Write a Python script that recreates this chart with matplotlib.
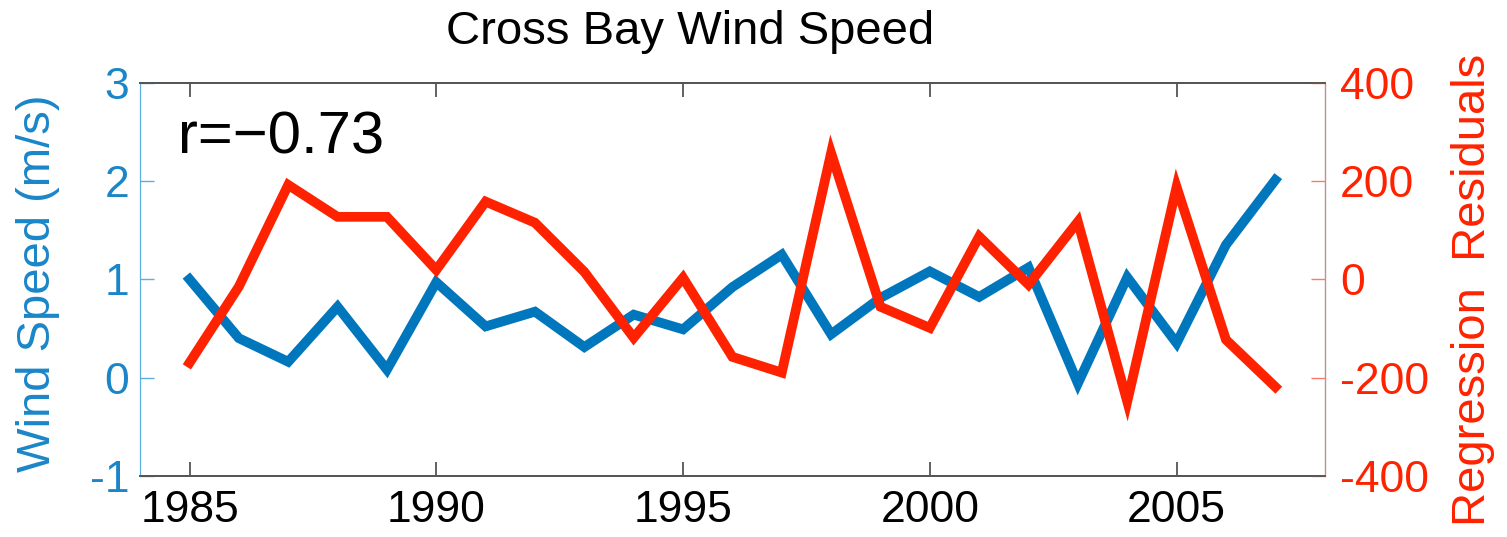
import matplotlib
matplotlib.use("Agg")
import matplotlib.pyplot as plt

plt.rcParams['font.family'] = ['Liberation Sans', 'DejaVu Sans']

# Annual series
years = list(range(1985, 2008))
wind_speed = [1.00, 0.40, 0.16, 0.72, 0.08, 0.97, 0.52, 0.67, 0.31, 0.64, 0.49, 0.92,
              1.25, 0.44, 0.81, 1.08, 0.82, 1.12, -0.06, 1.02, 0.35, 1.35, 2.01]
residuals = [-170, -15, 192, 127, 127, 19, 158, 115, 15, -119, 3, -158,
             -190, 257, -56, -99, 87, -11, 117, -249, 188, -123, -219]

year_ticks = [1985, 1990, 1995, 2000, 2005]
wind_ticks = [-1, 0, 1, 2, 3]
resid_ticks = [-400, -200, 0, 200, 400]

blue = '#0077bd'
blue_txt = '#1a86c8'
red = '#ff2200'

fig = plt.figure(figsize=(15.07, 5.37), dpi=100)
ax = fig.add_axes([0.093, 0.114, 0.786, 0.732])
ax2 = ax.twinx()

ax.plot(years, wind_speed, color=blue, lw=7, solid_joinstyle='miter', zorder=3)
ax2.plot(years, residuals, color=red, lw=7, solid_joinstyle='miter', zorder=3)

ax.set_xlim(1984, 2008)
ax.set_ylim(-1, 3)
ax2.set_ylim(-400, 400)
ax.set_xticks(year_ticks)
ax.set_yticks(wind_ticks)
ax2.set_yticks(resid_ticks)
ax2.set_yticklabels([str(v) for v in resid_ticks])
ax.set_yticklabels([str(v) for v in wind_ticks])

ax.tick_params(axis='x', direction='in', top=True, length=10, width=1.3,
               color='#555555', labelsize=32, pad=10)
ax.tick_params(axis='y', direction='in', length=10, width=1, color='#5aaee0',
               labelcolor=blue_txt, labelsize=32, pad=8)
ax2.tick_params(axis='y', direction='in', length=10, width=1, color='#ff7a66',
                labelcolor=red, labelsize=32, pad=11)

for a in (ax, ax2):
    a.spines['top'].set_color('#555555')
    a.spines['bottom'].set_color('#555555')
    a.spines['top'].set_linewidth(1.3)
    a.spines['bottom'].set_linewidth(1.3)
ax2.spines['left'].set_color('#5aaee0')
ax2.spines['right'].set_color('#ff7a66')
ax.spines['left'].set_color('#5aaee0')

ax.set_ylabel('Wind Speed (m/s)', color=blue_txt, fontsize=34)
ax.yaxis.set_label_coords(-0.086, 0.49)
ax.yaxis.label.set_va('center')
ax2.set_ylabel('Regression  Residuals', color=red, fontsize=34, rotation=90)
ax2.yaxis.set_label_coords(1.125, 0.472)
ax2.yaxis.label.set_va('center')

ax.text(0.032, 0.86, 'r=\u22120.73', transform=ax.transAxes, fontsize=43,
        color='black', va='center', ha='left')

fig.text(0.458, 0.94, 'Cross Bay Wind Speed', fontsize=34, ha='center', va='center')

fig.savefig('out.png', dpi=100)
